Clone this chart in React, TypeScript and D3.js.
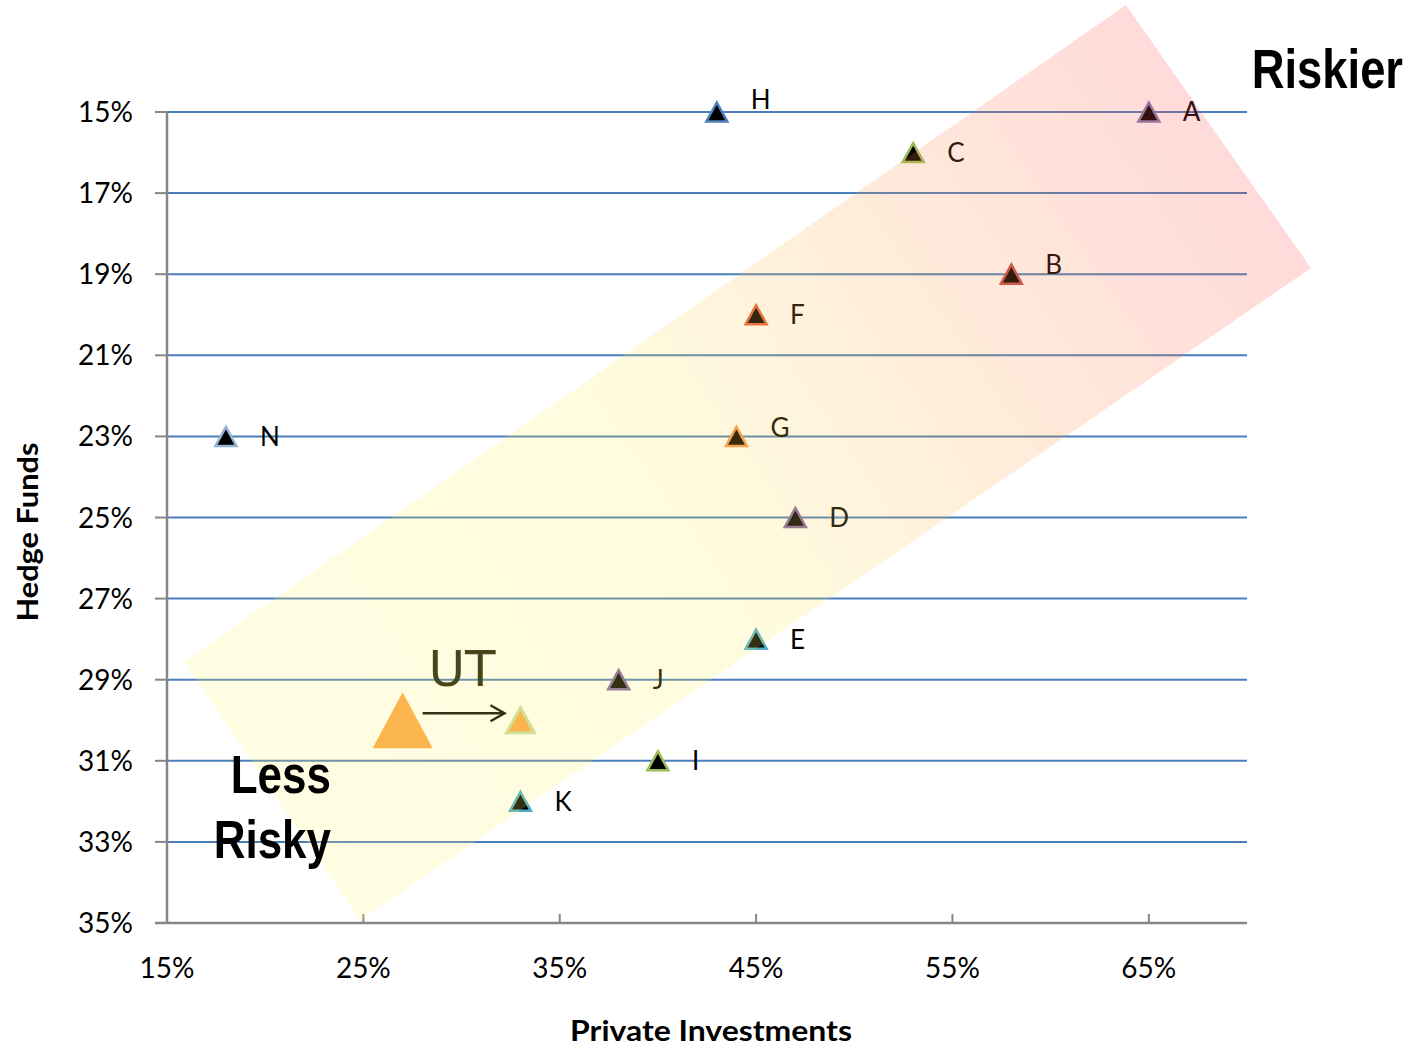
import React from "react";
import * as d3 from "d3";

// ---- data ----
const fundLabels = ["A", "B", "C", "D", "E", "F", "G", "H", "I", "J", "K", "N"];
const privateInvestments = [65, 58, 53, 47, 45, 45, 44, 43, 40, 38, 33, 18];
const hedgeFunds = [15, 19, 16, 25, 28, 20, 23, 15, 31, 29, 32, 23];
const outlineColors = ["#7F7FB0", "#C0504D", "#9BBB59", "#8064A2", "#4BACC6", "#E0603A", "#F79646", "#4F81BD", "#9BBB59", "#8064A2", "#4BACC6", "#95B3D7"];
const labelShiftUp = { H: 12, B: 10, G: 9 } as Record<string, number>;

const utPrevious = { x: 27, y: 30 };
const utCurrent = { x: 33, y: 30 };

const yTicks = [15, 17, 19, 21, 23, 25, 27, 29, 31, 33, 35];
const xTicks = [15, 25, 35, 45, 55, 65];

// risk band corners (in data units: private %, hedge %)
const bandCorners: [number, number][] = [
  [15.87, 28.56],
  [63.83, 12.36],
  [73.26, 18.85],
  [24.84, 34.93],
];

if (typeof document !== "undefined") {
  document.body.style.margin = "0";
}

const W = 1413;
const H = 1048;

function triPath(w: number, h: number) {
  return `M0,${-h / 2}L${w / 2},${h / 2}L${-w / 2},${h / 2}Z`;
}

export default function App() {
  const x = d3.scaleLinear().domain([15, 70]).range([167, 1247]);
  const y = d3.scaleLinear().domain([15, 35]).range([112, 923]);
  const fmt = (v: number) => `${v}%`;
  const tickFont = "Lato, 'Open Sans', sans-serif";

  const bandPts = bandCorners.map(([a, b]) => [x(a), y(b)] as [number, number]);
  const bandPath = d3.line()(bandPts) + "Z";
  const g0 = [(bandPts[0][0] + bandPts[3][0]) / 2, (bandPts[0][1] + bandPts[3][1]) / 2];
  const g1 = [(bandPts[1][0] + bandPts[2][0]) / 2, (bandPts[1][1] + bandPts[2][1]) / 2];

  const points = fundLabels.map((l, i) => ({
    label: l,
    px: x(privateInvestments[i]),
    py: y(hedgeFunds[i]),
    color: outlineColors[i],
  }));

  const arrowX1 = x(utPrevious.x) + 20;
  const arrowX2 = x(utCurrent.x) - 16;
  const arrowY = y(utPrevious.y) - 7;

  return (
    <svg width={W} height={H} style={{ display: "block", background: "#fff" }}>
      <defs>
        <linearGradient id="band" gradientUnits="userSpaceOnUse" x1={g0[0]} y1={g0[1]} x2={g1[0]} y2={g1[1]}>
          <stop offset="0" stopColor="rgb(255,248,110)" />
          <stop offset="0.45" stopColor="rgb(255,235,90)" />
          <stop offset="0.7" stopColor="rgb(255,160,70)" />
          <stop offset="1" stopColor="rgb(255,70,70)" />
        </linearGradient>
      </defs>

      {yTicks.map((t) => (
        <line key={"g" + t} x1={x(15)} x2={x(70)} y1={y(t)} y2={y(t)} stroke="#4A7EBB" strokeWidth={2} />
      ))}

      <line x1={x(15)} x2={x(15)} y1={y(15)} y2={y(35)} stroke="#868686" strokeWidth={2.5} />
      {yTicks.map((t) => (
        <g key={"yt" + t}>
          <line x1={x(15) - 12} x2={x(15)} y1={y(t)} y2={y(t)} stroke="#868686" strokeWidth={2} />
          <text x={133} y={y(t)} dy="0.36em" textAnchor="end" fontFamily={tickFont} fontSize={28} fill="#000">
            {fmt(t)}
          </text>
        </g>
      ))}

      <line x1={x(15) - 12} x2={x(70)} y1={y(35)} y2={y(35)} stroke="#868686" strokeWidth={2.5} />
      {xTicks.map((t) => (
        <g key={"xt" + t}>
          <line x1={x(t)} x2={x(t)} y1={y(35) - 9} y2={y(35)} stroke="#868686" strokeWidth={2} />
          <text x={x(t)} y={978} textAnchor="middle" fontFamily={tickFont} fontSize={28} fill="#000">
            {fmt(t)}
          </text>
        </g>
      ))}

      <text x={711} y={1041} textAnchor="middle" fontFamily={tickFont} fontWeight="bold" fontSize={29} fill="#000" textLength={282} lengthAdjust="spacingAndGlyphs">
        Private Investments
      </text>
      <text
        transform={`translate(38,532) rotate(-90)`}
        textAnchor="middle"
        fontFamily={tickFont}
        fontWeight="bold"
        fontSize={29}
        fill="#000"
        textLength={179}
        lengthAdjust="spacingAndGlyphs"
      >
        Hedge Funds
      </text>

      {points.map((p) => (
        <g key={p.label}>
          <path d={triPath(21, 19)} transform={`translate(${p.px},${p.py})`} fill="#000" stroke={p.color} strokeWidth={2.5} />
          <text x={p.px + 34} y={p.py - (labelShiftUp[p.label] || 0)} dy="0.36em" fontFamily={tickFont} fontSize={26} fill="#000">
            {p.label}
          </text>
        </g>
      ))}

      <path d={triPath(60, 56)} transform={`translate(${x(utPrevious.x)},${y(utPrevious.y)})`} fill="#F9A646" />
      <path d={triPath(28, 25)} transform={`translate(${x(utCurrent.x)},${y(utCurrent.y)})`} fill="#F9A646" stroke="#C9DA9E" strokeWidth={3} />
      <line x1={arrowX1} x2={arrowX2} y1={arrowY} y2={arrowY} stroke="#000" strokeWidth={2.5} />
      <path d={`M${arrowX2 - 14},${arrowY - 8}L${arrowX2},${arrowY}L${arrowX2 - 14},${arrowY + 8}`} fill="none" stroke="#000" strokeWidth={2.5} />
      <text x={462} y={686} textAnchor="middle" fontFamily="'DejaVu Sans', sans-serif" fontSize={50} fill="#1a1a08">
        UT
      </text>

      <path d={bandPath} fill="url(#band)" opacity={0.2} />

      <g transform="translate(1403,88) scale(0.81,1)">
        <text textAnchor="end" fontFamily="'Liberation Sans', Arial, sans-serif" fontWeight="bold" fontSize={56} fill="#000">
          Riskier
        </text>
      </g>
      <g transform="translate(331,793) scale(0.83,1)">
        <text textAnchor="end" fontFamily="'Liberation Sans', Arial, sans-serif" fontWeight="bold" fontSize={53} fill="#000">
          Less
        </text>
      </g>
      <g transform="translate(331,858) scale(0.83,1)">
        <text textAnchor="end" fontFamily="'Liberation Sans', Arial, sans-serif" fontWeight="bold" fontSize={53} fill="#000">
          Risky
        </text>
      </g>
    </svg>
  );
}
